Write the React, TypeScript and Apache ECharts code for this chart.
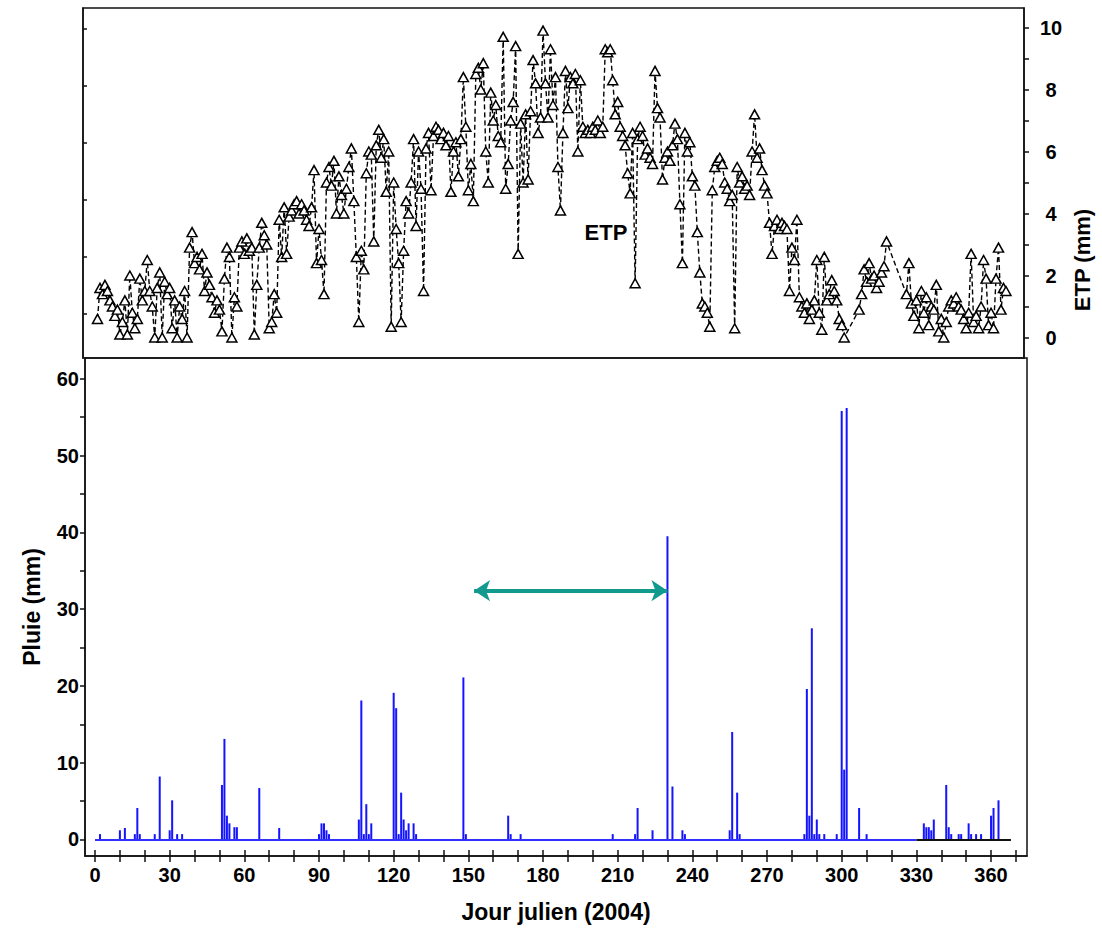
import React, { useEffect, useRef } from "react";
import * as echarts from "echarts";

// ETP (mm), days 1..366 (null = no measurement)
const etpValues: (number | null)[] = [
  0.6, 1.6, 1.4, 1.7, 1.5, 1.2, 1.0, 0.7, 0.9, 0.1,
  0.5, 1.2, 0.1, 2.0, 0.8, 0.3, 0.6, 1.9, 1.2, 1.5,
  2.5, 1.5, 1.0, 0.0, 1.6, 2.1, 0.0, 1.8, 1.4, 1.6,
  0.3, 1.2, 0.0, 1.0, 0.6, 1.5, 0.0, 2.9, 3.4, 2.4,
  2.6, 2.2, 2.7, 1.5, 2.1, 1.7, 1.3, 0.8, 1.2, 0.9,
  0.2, 1.9, 2.9, 2.6, 0.0, 1.3, 1.0, 2.9, 3.1, 2.7,
  3.2, 2.8, 2.9, 0.1, 1.7, 2.9, 3.7, 3.3, 3.0, 0.3,
  0.5, 1.4, 0.8, 3.8, 2.6, 4.2, 2.7, 3.9, 4.1, 4.3,
  4.4, 4.0, 4.3, 4.1, 3.8, 3.6, 4.2, 5.4, 2.4, 3.5,
  2.5, 1.4, 5.0, 5.5, 4.9, 5.7, 4.0, 5.2, 4.6, 4.0,
  4.8, 5.5, 6.1, 4.4, 2.6, 0.5, 2.8, 2.2, 5.3, 6.0,
  5.9, 3.1, 6.2, 6.7, 5.8, 6.4, 4.7, 6.0, 0.35, 5.0,
  3.5, 2.4, 0.5, 2.8, 4.4, 4.0, 5.0, 6.4, 3.6, 6.0,
  4.8, 1.5, 6.1, 6.6, 4.75, 6.5, 6.8, 6.7, 6.4, 6.6,
  6.2, 6.5, 4.7, 6.0, 6.3, 5.2, 6.4, 8.4, 6.8, 4.75,
  5.6, 4.4, 8.5, 8.7, 8.0, 8.85, 6.0, 5.0, 7.9, 7.0,
  7.5, 6.5, 6.3, 9.7, 4.8, 5.6, 7.0, 7.6, 9.4, 2.7,
  6.9, 5.0, 7.2, 5.1, 7.3, 8.95, 8.2, 6.6, 7.1, 9.9,
  8.2, 7.1, 9.3, 7.5, 8.4, 5.5, 4.1, 6.6, 8.6, 7.4,
  8.4, 8.2, 8.5, 6.0, 8.3, 6.8, 6.6, 6.7, 6.6, 6.8,
  6.7, 7.0, 6.6, 6.8, 9.3, 9.2, 9.3, 8.3, 7.2, 7.6,
  6.8, 6.5, 6.2, 5.3, 4.65, 6.6, 1.75, 6.4, 6.8, 6.5,
  5.9, 6.1, 5.8, 5.6, 8.6, 7.4, 7.1, 5.1, 5.8, 6.0,
  5.7, 6.2, 6.9, 6.4, 4.3, 2.4, 6.6, 6.0, 6.3, 5.2,
  4.9, 3.4, 2.1, 1.1, 1.0, 0.8, 0.35, 4.75, 5.5, 5.7,
  5.8, 5.6, 5.0, 4.8, 4.4, 4.6, 0.3, 5.5, 5.0, 5.2,
  4.8, 4.9, 4.6, 6.0, 7.2, 5.8, 6.1, 5.4, 4.9, 4.65,
  3.7, 2.7, 3.6, 3.8, 3.5, 3.7, 3.6, 3.5, 1.5, 2.9,
  2.5, 3.8, 1.3, 1.0, 0.8, 1.1, 0.6, 0.9, 1.2, 2.5,
  0.8, 0.25, 2.6, 1.2, 1.4, 1.85, 1.5, 1.2, 0.6, 0.4,
  0.0, null, null, null, null, null, 0.9, 1.4, 2.2, 1.8,
  2.4, 1.9, 2.0, 1.6, 1.8, 2.1, 2.3, 3.1, null, null,
  null, null, null, null, null, 1.4, 2.4, 1.1, 0.7, 1.2,
  0.3, 1.5, 0.8, 1.3, 0.4, 1.0, 0.9, 1.7, 0.2, 0.6,
  0.0, 0.5, 1.0, 1.2, 1.1, 1.3, 1.0, 0.9, 0.6, 0.3,
  0.8, 2.7, 0.5, 0.7, 0.3, 1.0, 2.5, 1.9, 0.4, 0.8,
  0.3, 1.9, 2.9, 0.9, 1.6, 1.5,
];

// Rain (mm): days with rain and amounts
const rainDays = [
  2, 10, 12, 16, 17, 18, 24, 26, 30, 31, 33, 35,
  51, 52, 53, 54, 56, 57, 66, 74, 90, 91, 92, 93, 94,
  106, 107, 108, 109, 110, 111, 120, 121, 122, 123, 124, 125, 126, 128, 129,
  148, 149, 166, 167, 171, 208, 217, 218, 224, 230, 232, 236, 237,
  255, 256, 258, 259, 285, 286, 287, 288, 289, 290, 291, 293, 298,
  300, 301, 302, 307, 310, 333, 334, 335, 336, 337, 342, 343, 344,
  347, 348, 351, 352, 354, 356, 360, 361, 363,
];
const rainValues = [
  0.7, 1.2, 1.5, 0.7, 4.1, 0.7, 0.7, 8.2, 1.2, 5.1, 0.7, 0.7,
  7.1, 13.1, 3.1, 2.1, 1.6, 1.6, 6.7, 1.5, 0.7, 2.1, 2.1, 1.2, 0.7,
  2.6, 18.1, 0.7, 4.6, 0.7, 2.1, 19.1, 17.1, 0.7, 6.1, 2.6, 1.2, 2.1, 2.1, 0.7,
  21.1, 0.7, 3.1, 0.7, 0.7, 0.7, 0.7, 4.1, 1.2, 39.5, 6.9, 1.2, 0.7,
  1.2, 14.0, 6.1, 0.7, 0.7, 19.6, 3.1, 27.5, 0.7, 2.6, 0.7, 0.7, 0.7,
  55.8, 9.1, 56.2, 4.1, 0.7, 2.1, 1.6, 1.6, 1.2, 2.6, 7.1, 1.6, 0.7,
  0.7, 0.7, 2.1, 0.7, 0.7, 0.7, 3.1, 4.1, 5.1,
];

// Axis tick labels
const dayLabels = [0, 30, 60, 90, 120, 150, 180, 210, 240, 270, 300, 330, 360];
const dayTicks = [
  0, 10, 20, 30, 40, 50, 60, 70, 80, 90, 100, 110, 120, 130, 140, 150, 160, 170, 180,
  190, 200, 210, 220, 230, 240, 250, 260, 270, 280, 290, 300, 310, 320, 330, 340, 350, 360, 370,
];
const pluieLabels = [0, 10, 20, 30, 40, 50, 60];
const pluieTicks = [0, 5, 10, 15, 20, 25, 30, 35, 40, 45, 50, 55, 60];
const etpLabels = [0, 2, 4, 6, 8, 10];
const etpTicks = [0, 1, 2, 3, 4, 5, 6, 7, 8, 9, 10];
const topLeftTicks = [0.76, 2.6, 4.44, 6.28, 8.12, 9.96];

// Arrow (période sèche) in rain coordinates
const arrowFrom = [152.3, 32.4];
const arrowTo = [230, 32.4];
const baselineBlue = [0, 330];
const baselineBlack = [330, 368];

const FONT = "'Liberation Sans', Arial, sans-serif";

export default function App() {
  const ref = useRef<HTMLDivElement>(null);
  useEffect(() => {
    if (!ref.current) return;
    const chart = echarts.init(ref.current, null, { renderer: "svg" });
    const etpData = etpValues.map((v, i) => [i + 1, v === null ? "-" : v]);
    const rainData = rainDays.map((d, i) => [d, rainValues[i]]);
    const lbl = { fontFamily: FONT, fontWeight: "bold" as const, fontSize: 20, color: "#000" };
    const axisStroke = { color: "#111", width: 1.5 };
    const option: any = {
      animation: false,
      backgroundColor: "#fff",
      grid: [
        { left: 83, top: 8, width: 941, height: 350, show: true, borderColor: "#111", borderWidth: 1.5 },
        { left: 85, top: 358, width: 942, height: 498, show: true, borderColor: "#111", borderWidth: 1.5 },
      ],
      xAxis: [
        { gridIndex: 0, type: "value", min: -4.82, max: 373.24, show: false, splitLine: { show: false } },
        {
          gridIndex: 1, type: "value", min: -4.02, max: 374.45, position: "bottom",
          splitLine: { show: false },
          axisLine: { show: true, onZero: false, lineStyle: axisStroke },
          axisTick: { show: true, customValues: dayTicks, length: 6, lineStyle: axisStroke },
          axisLabel: { ...lbl, customValues: dayLabels, margin: 9 },
          name: "Jour julien (2004)", nameLocation: "middle", nameGap: 44,
          nameTextStyle: { fontFamily: FONT, fontWeight: "bold", fontSize: 23, color: "#000" },
        },
        {
          gridIndex: 1, type: "value", min: -4.02, max: 374.45, position: "bottom",
          splitLine: { show: false }, axisLine: { show: false, onZero: false },
          axisLabel: { show: true, customValues: dayTicks, formatter: () => "" },
          axisTick: { show: true, inside: true, customValues: dayTicks, length: 6, lineStyle: axisStroke },
        },
      ],
      yAxis: [
        {
          gridIndex: 0, type: "value", min: -0.66, max: 10.63, position: "right",
          splitLine: { show: false },
          axisLine: { show: true, onZero: false, lineStyle: axisStroke },
          axisTick: { show: true, customValues: etpTicks, length: 5, lineStyle: axisStroke },
          axisLabel: { ...lbl, customValues: etpLabels, margin: 27, align: "center" },
        },
        {
          gridIndex: 0, type: "value", min: -0.66, max: 10.63, position: "left",
          splitLine: { show: false },
          axisLine: { show: true, onZero: false, lineStyle: axisStroke },
          axisTick: { show: true, inside: true, customValues: topLeftTicks, length: 4, lineStyle: axisStroke },
          axisLabel: { show: true, customValues: topLeftTicks, formatter: () => "" },
        },
        {
          gridIndex: 1, type: "value", min: -2.15, max: 62.7, position: "left",
          splitLine: { show: false },
          axisLine: { show: true, onZero: false, lineStyle: axisStroke },
          axisTick: { show: true, customValues: pluieTicks, length: 5, lineStyle: axisStroke },
          axisLabel: { ...lbl, customValues: pluieLabels, margin: 6 },
          name: "Pluie (mm)", nameLocation: "middle", nameRotate: 90, nameGap: 42,
          nameTextStyle: { fontFamily: FONT, fontWeight: "bold", fontSize: 23, color: "#000" },
        },
      ],
      series: [
        {
          type: "line", xAxisIndex: 0, yAxisIndex: 0, data: etpData,
          connectNulls: true, showAllSymbol: true,
          symbol: "triangle", symbolSize: [10, 9],
          itemStyle: { color: "#fff", borderColor: "#000", borderWidth: 1.5 },
          lineStyle: { color: "#000", width: 1.4, type: [5, 3] },
          z: 3,
        },
        {
          type: "bar", xAxisIndex: 1, yAxisIndex: 2, data: rainData,
          barWidth: 2, itemStyle: { color: "#1414ff" },
          markLine: {
            silent: true, symbol: ["none", "none"], label: { show: false },
            data: [
              [
                { coord: [baselineBlue[0], 0], lineStyle: { color: "#3030ff", width: 2, type: "solid" } },
                { coord: [baselineBlue[1], 0] },
              ],
              [
                { coord: [baselineBlack[0], 0], lineStyle: { color: "#111", width: 2, type: "solid" } },
                { coord: [baselineBlack[1], 0] },
              ],
              [
                { coord: arrowFrom, symbol: "arrow", symbolSize: [16, 16], lineStyle: { color: "#139a8f", width: 4, type: "solid" } },
                { coord: arrowTo, symbol: "arrow", symbolSize: [16, 16] },
              ],
            ],
          },
        },
      ],
      graphic: [
        {
          type: "text", x: 1082, y: 260, rotation: Math.PI / 2,
          style: { text: "ETP (mm)", fontFamily: FONT, fontWeight: "bold", fontSize: 22, fill: "#000", align: "center", verticalAlign: "middle" },
        },
        {
          type: "text", x: 606, y: 232,
          style: { text: "ETP", fontFamily: FONT, fontWeight: "bold", fontSize: 22, fill: "#000", align: "center", verticalAlign: "middle" },
        },
      ],
    };
    chart.setOption(option);
    return () => chart.dispose();
  }, []);
  return (
    <div
      ref={ref}
      style={{ position: "fixed", left: 0, top: 0, width: 1102, height: 929, background: "#fff" }}
    />
  );
}
